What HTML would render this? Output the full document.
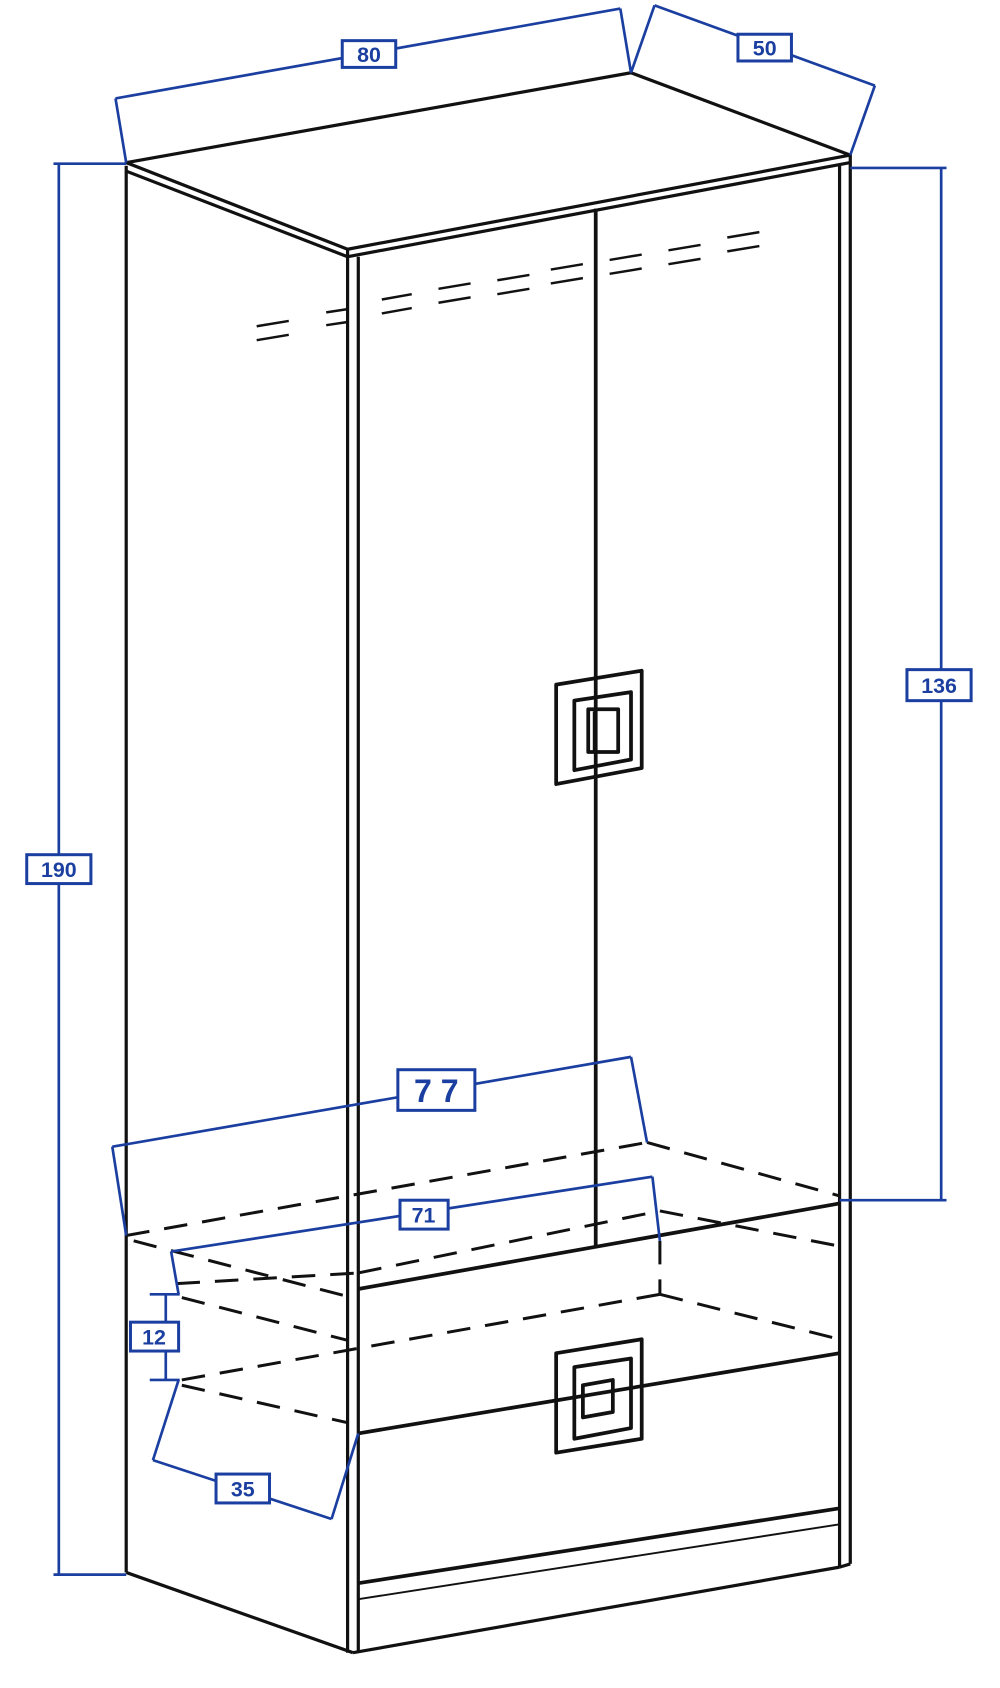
<!DOCTYPE html>
<html><head><style>html,body{margin:0;padding:0;background:#fff}svg{display:block}</style></head>
<body>
<svg width="1000" height="1688" viewBox="0 0 935 1578" preserveAspectRatio="none" xmlns="http://www.w3.org/2000/svg">
<g fill="none" stroke="#111" stroke-width="3" stroke-linejoin="round">
<polygon points="118,152 590,68 795,145 325,233"/>
<line x1="118" y1="160" x2="325" y2="240"/>
<line x1="325" y1="240" x2="795" y2="152"/>
<line x1="118" y1="155" x2="118" y2="1470"/>
<line x1="118" y1="1470" x2="330" y2="1545"/>
<line x1="325" y1="233" x2="325" y2="1545"/>
<line x1="335" y1="240" x2="335" y2="1545"/>
<line x1="330" y1="1545" x2="785" y2="1465"/>
<line x1="785" y1="155" x2="785" y2="1465"/>
<line x1="795" y1="145" x2="795" y2="1462"/>
<line x1="785" y1="1465" x2="795" y2="1462"/>
<line x1="557" y1="195" x2="557" y2="1165" stroke-width="3.5"/>
<line x1="335" y1="1205" x2="785" y2="1125" stroke-width="3.5"/>
<line x1="335" y1="1340" x2="785" y2="1265" stroke-width="3.5"/>
<line x1="335" y1="1480" x2="785" y2="1410" stroke-width="3.5"/>
<line x1="335" y1="1495" x2="785" y2="1425" stroke-width="1.8"/>
<g stroke-width="3.5">
<polygon points="520,640 600,627 600,718 520,733"/>
<polygon points="537,655 590,647 590,710 537,720"/>
<rect x="550" y="663" width="28" height="40"/>
<line x1="556" y1="665" x2="556" y2="702"/>
<polygon points="520,1265 600,1252 600,1345 520,1358"/>
<polygon points="537,1278 590,1270 590,1335 537,1345"/>
<polygon points="545,1295 573,1290 573,1320 545,1325"/>
</g>
<g stroke-width="2.3">
<path d="M240,305 L270,300 M240,318 L270,313 M305,292 L325,289 M305,304 L325,301 M357,280 L385,275 M357,293 L385,288 M410,270 L440,265 M410,283 L440,278 M465,262 L495,257 M465,275 L495,270 M515,252 L545,247 M515,265 L545,260 M570,243 L600,238 M570,256 L600,251 M625,234 L655,229 M625,247 L655,242 M680,222 L710,217 M680,235 L710,230"/>
</g>
<g stroke-dasharray="22,14" stroke-width="2.8">
<line x1="118" y1="1155" x2="605" y2="1068"/>
<line x1="605" y1="1068" x2="785" y2="1118"/>
<line x1="125" y1="1160" x2="325" y2="1212"/>
<line x1="165" y1="1200" x2="335" y2="1190"/>
<line x1="335" y1="1190" x2="617" y2="1132"/>
<line x1="617" y1="1132" x2="785" y2="1165"/>
<line x1="170" y1="1213" x2="325" y2="1253"/>
<line x1="170" y1="1290" x2="617" y2="1210"/>
<line x1="617" y1="1210" x2="785" y2="1252"/>
<line x1="170" y1="1295" x2="325" y2="1330"/>
<line x1="617" y1="1160" x2="617" y2="1210"/>
</g>
</g>
<g fill="none" stroke="#1b3fa0" stroke-width="2.5">
<line x1="108" y1="92" x2="580" y2="8"/>
<line x1="108" y1="92" x2="118" y2="152"/>
<line x1="580" y1="8" x2="590" y2="68"/>
<line x1="612" y1="5" x2="818" y2="80"/>
<line x1="612" y1="5" x2="590" y2="68"/>
<line x1="818" y1="80" x2="795" y2="145"/>
<line x1="55" y1="153" x2="55" y2="1472"/>
<line x1="50" y1="153" x2="118" y2="153"/>
<line x1="50" y1="1472" x2="118" y2="1472"/>
<line x1="880" y1="157" x2="880" y2="1122"/>
<line x1="795" y1="157" x2="885" y2="157"/>
<line x1="785" y1="1122" x2="885" y2="1122"/>
<line x1="105" y1="1072" x2="590" y2="988"/>
<line x1="105" y1="1072" x2="118" y2="1155"/>
<line x1="590" y1="988" x2="605" y2="1068"/>
<line x1="160" y1="1170" x2="610" y2="1100"/>
<line x1="160" y1="1170" x2="167" y2="1210"/>
<line x1="610" y1="1100" x2="617" y2="1160"/>
<line x1="155" y1="1210" x2="155" y2="1290"/>
<line x1="140" y1="1210" x2="168" y2="1210"/>
<line x1="140" y1="1290" x2="168" y2="1290"/>
<line x1="143" y1="1365" x2="310" y2="1420"/>
<line x1="143" y1="1365" x2="167" y2="1290"/>
<line x1="310" y1="1420" x2="335" y2="1340"/>
</g>
<g fill="#fff" stroke="#1b3fa0" stroke-width="2.8">
<rect x="320" y="38" width="50" height="25"/>
<rect x="690" y="32" width="50" height="25"/>
<rect x="25" y="799" width="60" height="27"/>
<rect x="848" y="626" width="60" height="29"/>
<rect x="372" y="1000" width="72" height="38"/>
<rect x="374" y="1122" width="45" height="27"/>
<rect x="122" y="1236" width="45" height="27"/>
<rect x="202" y="1378" width="50" height="27"/>
</g>
<g fill="#1b3fa0" font-family="Liberation Sans, sans-serif" font-weight="bold" text-anchor="middle">
<text x="345" y="58" font-size="20">80</text>
<text x="715" y="52" font-size="20">50</text>
<text x="55" y="820" font-size="20">190</text>
<text x="878" y="648" font-size="20">136</text>
<text x="408" y="1030" font-size="30">7 7</text>
<text x="396" y="1143" font-size="20">71</text>
<text x="144" y="1257" font-size="20">12</text>
<text x="227" y="1399" font-size="20">35</text>
</g>
</svg>
</body></html>
